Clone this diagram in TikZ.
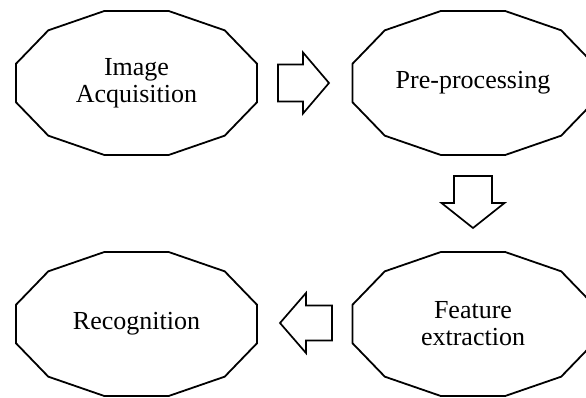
\documentclass[tikz,border=0pt]{standalone}
\usepackage{fontspec}
\setmainfont{Liberation Serif}
\tikzset{
  stage/.style={align=center, font=\fontsize{26}{27}\selectfont, inner sep=0pt},
  outline/.style={draw=black, line width=1.8pt, line join=miter},
  blockarrow/.style={draw=black, line width=1.7pt, line join=miter},
}
\newcommand\dodecagon[1]{%
  \draw[outline, shift={(#1)}] plot[samples at={15,45,...,345}] ({124.7*cos(\x)},{74.5*sin(\x)}) -- cycle;}
\begin{document}
\begin{tikzpicture}[x=1pt,y=-1pt]
\clip (0,0) rectangle (586,398);
\useasboundingbox (0,0) rectangle (586,398);
\node[stage] (acq) at (136.5,83) {Image\\Acquisition};
\node[stage] (pre) at (473,83) {Pre-processing};
\node[stage] (feat) at (473,324) {Feature\\extraction};
\node[stage] (rec) at (136.5,324) {Recognition};
\coordinate (acqc) at (136.5,83);
\coordinate (prec) at (473,83);
\coordinate (featc) at (473,324);
\coordinate (recc) at (136.5,324);
\dodecagon{acqc}
\dodecagon{prec}
\dodecagon{featc}
\dodecagon{recc}
% right arrow
\coordinate (a1) at (278,83);
\draw[blockarrow] (a1) ++(0,-18.5) -- ++(25,0) -- ++(0,-12) -- ++(26,30.5) -- ++(-26,30.5) -- ++(0,-12) -- ++(-25,0) -- cycle;
% down arrow
\coordinate (a2) at (473,176);
\draw[blockarrow] (a2) ++(-19,0) -- ++(38,0) -- ++(0,27) -- ++(12.5,0) -- ++(-31.5,25) -- ++(-31.5,-25) -- ++(12.5,0) -- cycle;
% left arrow
\coordinate (a3) at (332,323);
\draw[blockarrow] (a3) ++(0,-17.5) -- ++(-26,0) -- ++(0,-12.5) -- ++(-26,30) -- ++(26,30) -- ++(0,-12.5) -- ++(26,0) -- cycle;
\end{tikzpicture}
\end{document}
